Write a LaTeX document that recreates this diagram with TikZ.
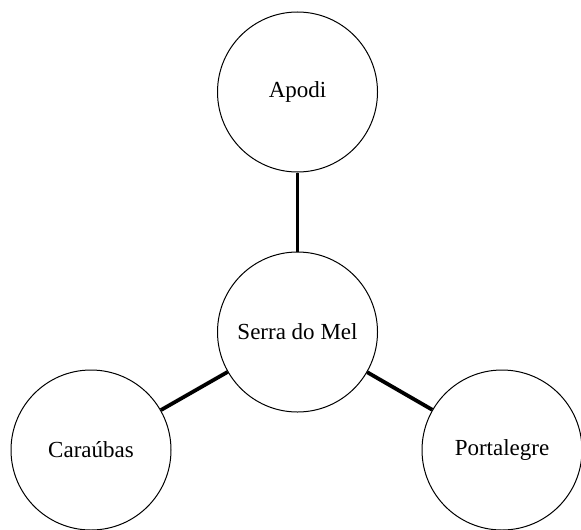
\documentclass[tikz,border=0pt]{standalone}
\usepackage{fontspec}
\setmainfont{Liberation Serif}
\usepackage{tikz}
\usetikzlibrary{positioning}

\begin{document}
\begin{tikzpicture}[
    x=0.5pt, y=-0.5pt,
    city/.style={circle, draw, line width=0.5pt, minimum size=80pt, inner sep=0pt, align=center, font=\fontsize{11.5}{13}\selectfont},
    link/.style={line width=1.9pt}
]
\useasboundingbox (0,0) rectangle (581,529);

% Cities
\node[city] (serra) at (297.5,332) {Serra do Mel};
\node[city] (apodi) at (297.5,92) {Apodi};
\node[city] (caraubas) at (91,450) {Caraúbas};
\node[city] (portalegre) at (502,450) {Portalegre};

% Links
\draw[link] (apodi) -- (serra);
\draw[link] (serra) -- (caraubas);
\draw[link] (serra) -- (portalegre);

\end{tikzpicture}
\end{document}
